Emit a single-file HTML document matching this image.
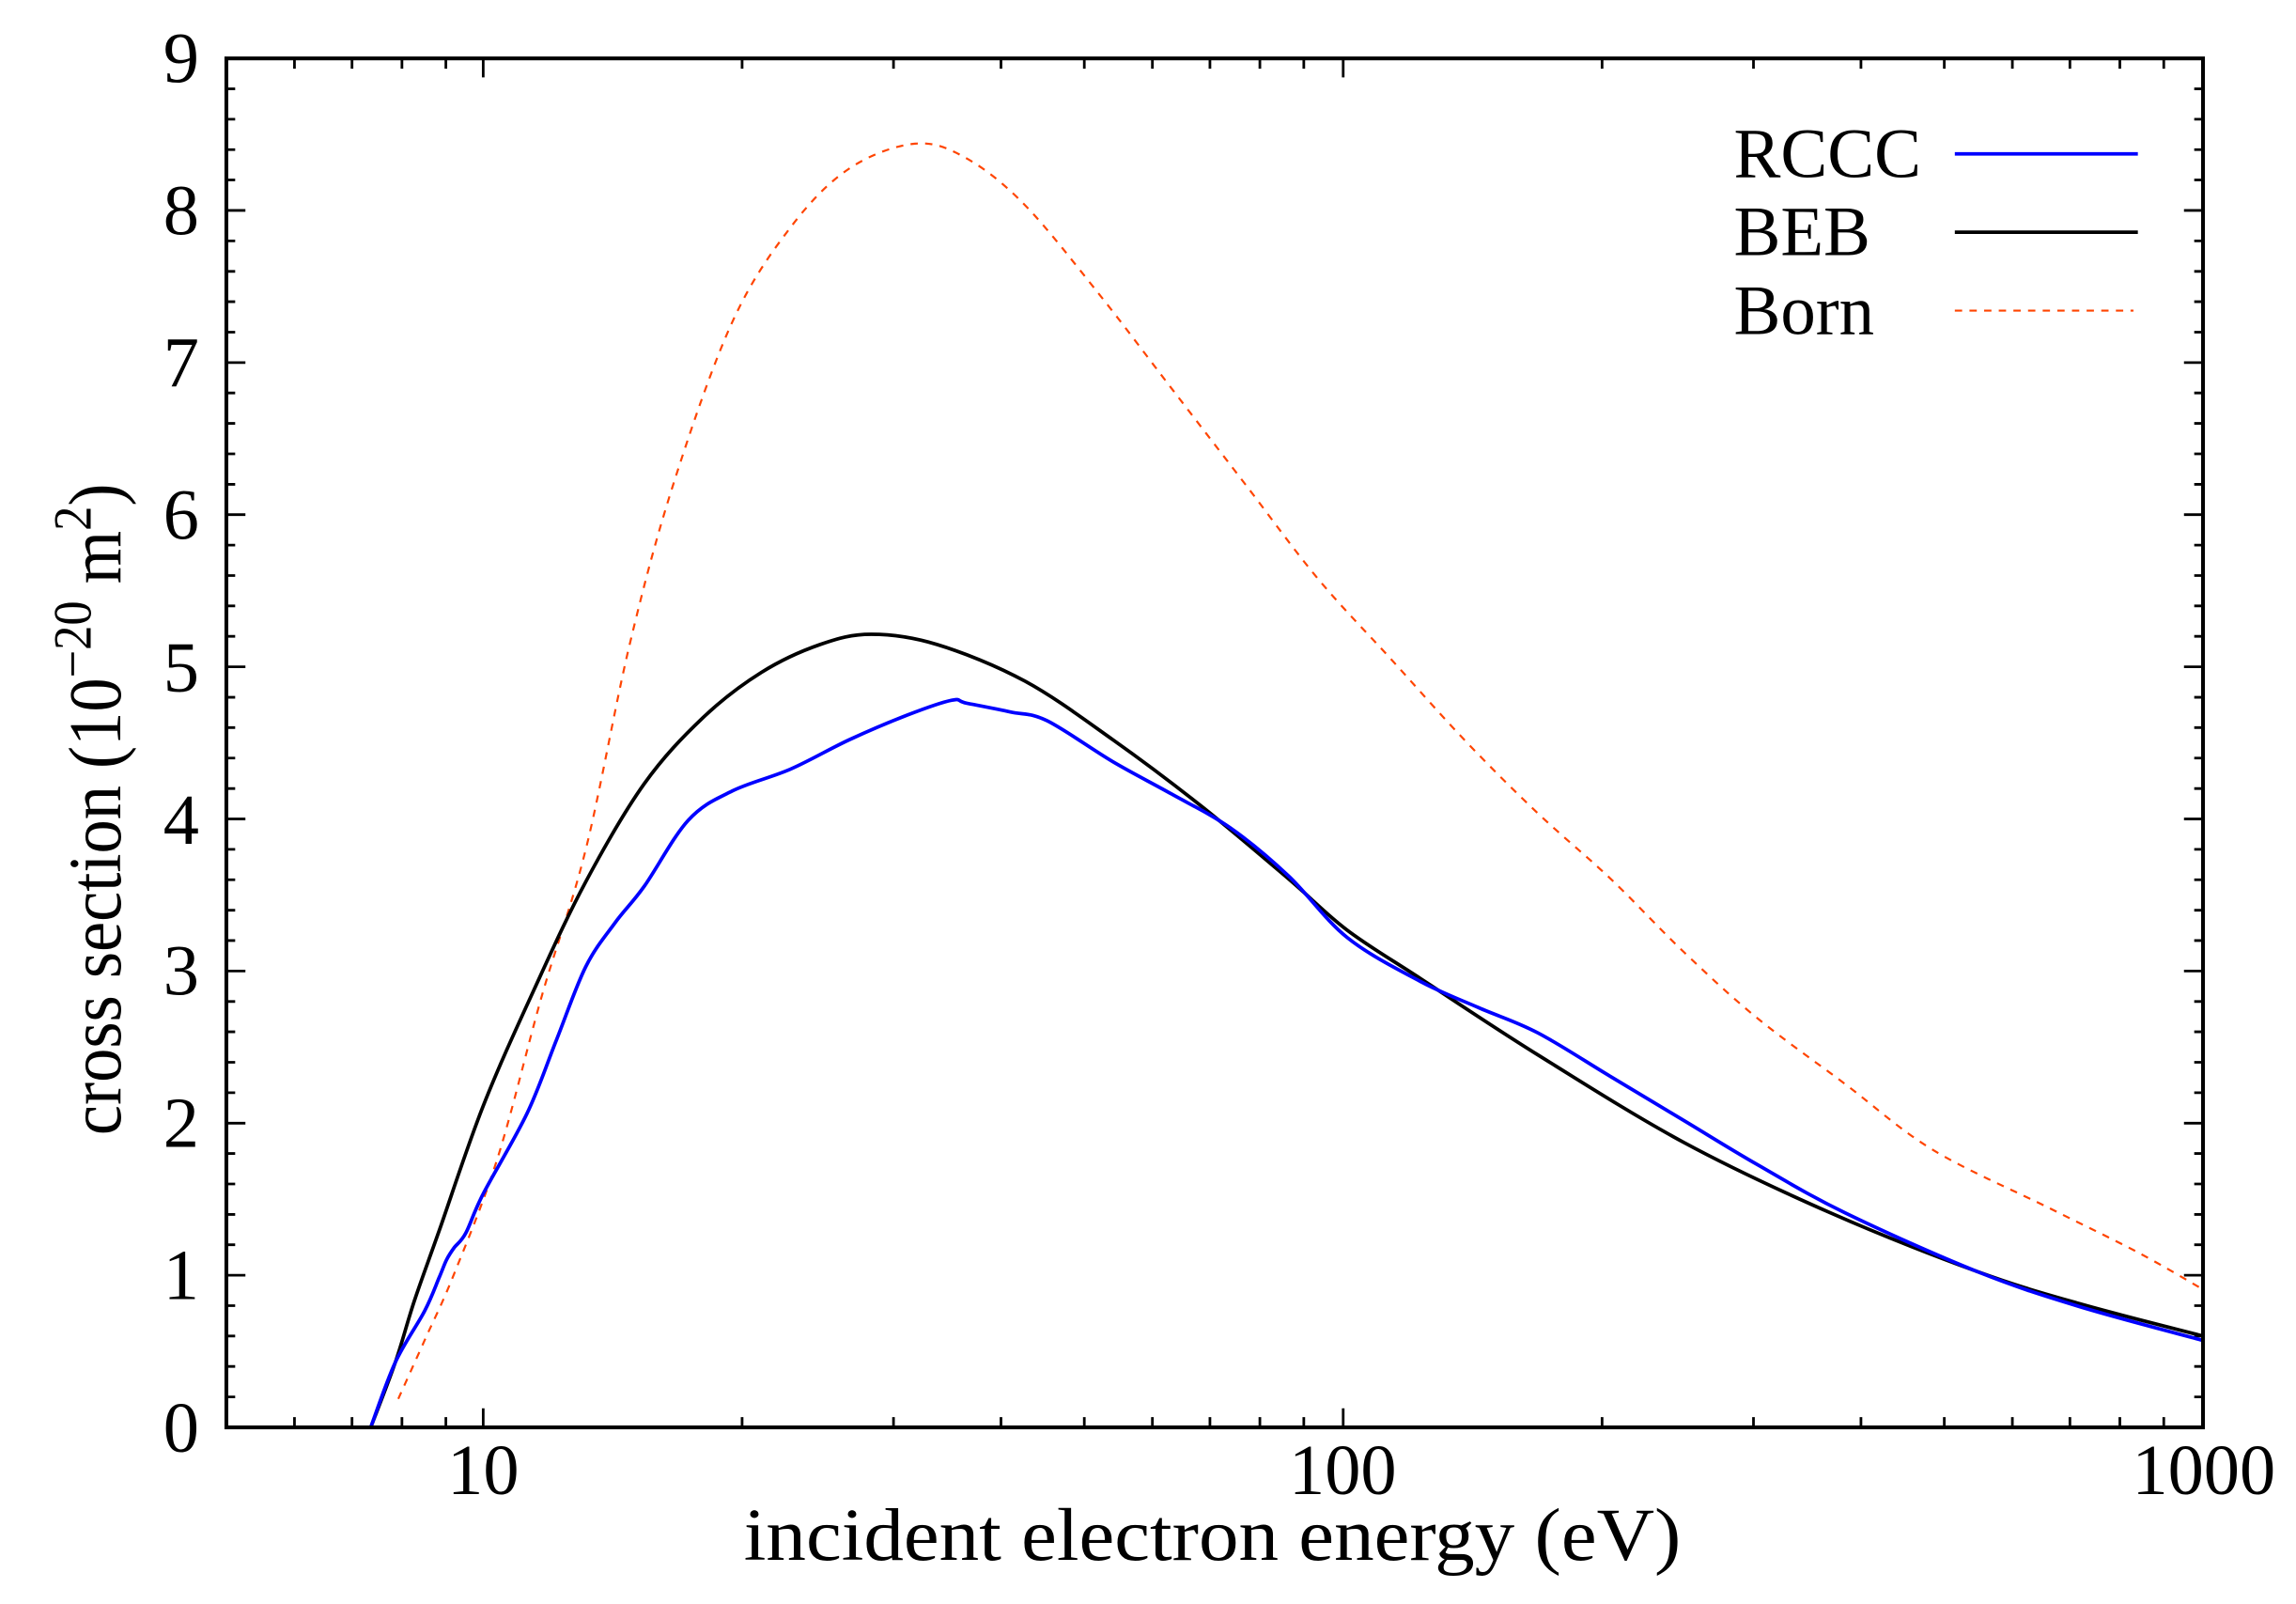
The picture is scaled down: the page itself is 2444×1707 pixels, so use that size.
<!DOCTYPE html>
<html><head><meta charset="utf-8"><style>html,body{margin:0;padding:0;background:#fff}svg{display:block}</style></head>
<body>
<svg id="s" width="2444" height="1707" viewBox="0 0 1568 1095" xmlns="http://www.w3.org/2000/svg" font-family="'Liberation Serif', serif">
<rect width="1568" height="1095" fill="#fff"/>
<g stroke="#000" stroke-width="1.8" fill="none">
<path d="M154.6,953.7h6M154.6,932.9h6M154.6,912.1h6M154.6,891.4h6M154.6,849.8h6M154.6,829.1h6M154.6,808.3h6M154.6,787.5h6M154.6,746h6M154.6,725.2h6M154.6,704.4h6M154.6,683.7h6M154.6,642.1h6M154.6,621.4h6M154.6,600.6h6M154.6,579.8h6M154.6,538.3h6M154.6,517.5h6M154.6,496.7h6M154.6,476h6M154.6,434.4h6M154.6,413.6h6M154.6,392.9h6M154.6,372.1h6M154.6,330.6h6M154.6,309.8h6M154.6,289h6M154.6,268.2h6M154.6,226.7h6M154.6,205.9h6M154.6,185.2h6M154.6,164.4h6M154.6,122.8h6M154.6,102.1h6M154.6,81.3h6M154.6,60.6h6"/>
<path d="M1504.5,953.7h-6M1504.5,932.9h-6M1504.5,912.1h-6M1504.5,891.4h-6M1504.5,849.8h-6M1504.5,829.1h-6M1504.5,808.3h-6M1504.5,787.5h-6M1504.5,746h-6M1504.5,725.2h-6M1504.5,704.4h-6M1504.5,683.7h-6M1504.5,642.1h-6M1504.5,621.4h-6M1504.5,600.6h-6M1504.5,579.8h-6M1504.5,538.3h-6M1504.5,517.5h-6M1504.5,496.7h-6M1504.5,476h-6M1504.5,434.4h-6M1504.5,413.6h-6M1504.5,392.9h-6M1504.5,372.1h-6M1504.5,330.6h-6M1504.5,309.8h-6M1504.5,289h-6M1504.5,268.2h-6M1504.5,226.7h-6M1504.5,205.9h-6M1504.5,185.2h-6M1504.5,164.4h-6M1504.5,122.8h-6M1504.5,102.1h-6M1504.5,81.3h-6M1504.5,60.6h-6"/>
<path d="M154.6,870.6h13M154.6,766.8h13M154.6,662.9h13M154.6,559.1h13M154.6,455.2h13M154.6,351.3h13M154.6,247.5h13M154.6,143.6h13"/>
<path d="M1504.5,870.6h-13M1504.5,766.8h-13M1504.5,662.9h-13M1504.5,559.1h-13M1504.5,455.2h-13M1504.5,351.3h-13M1504.5,247.5h-13M1504.5,143.6h-13"/>
<path d="M201.1,974.5v-7M240.4,974.5v-7M274.5,974.5v-7M304.5,974.5v-7M506.8,974.5v-7M610.2,974.5v-7M683.6,974.5v-7M740.5,974.5v-7M787,974.5v-7M826.3,974.5v-7M860.4,974.5v-7M890.4,974.5v-7M1094.1,974.5v-7M1197.5,974.5v-7M1270.9,974.5v-7M1327.8,974.5v-7M1374.3,974.5v-7M1413.6,974.5v-7M1447.7,974.5v-7M1477.7,974.5v-7"/>
<path d="M201.1,39.8v7M240.4,39.8v7M274.5,39.8v7M304.5,39.8v7M506.8,39.8v7M610.2,39.8v7M683.6,39.8v7M740.5,39.8v7M787,39.8v7M826.3,39.8v7M860.4,39.8v7M890.4,39.8v7M1094.1,39.8v7M1197.5,39.8v7M1270.9,39.8v7M1327.8,39.8v7M1374.3,39.8v7M1413.6,39.8v7M1447.7,39.8v7M1477.7,39.8v7"/>
<path d="M330,974.5v-13M917.3,974.5v-13M330,39.8v13M917.3,39.8v13"/>
</g>
<polyline class="sm" fill="none" stroke="#ff4400" stroke-width="1.4" stroke-dasharray="5,5" points="272,955 290,915 310,870 340,790 370,680 400,580 430,440 460,330 500,220 540,155 580,115 625,98 660,108 700,140 750,200 800,265 850,330 900,395 950,450 1000,505 1050,555 1100,600 1150,650 1200,695 1260,740 1320,785 1400,825 1460,855 1504,880"/>
<polyline class="sm" fill="none" stroke="#000" stroke-width="2.4" stroke-linejoin="round" points="253,975 270,930 283,888 300,840 330,755 365,675 400,602 440,535 480,490 520,459 560,440 595,433 640,440 700,465 760,505 820,550 880,600 920,635 970,668 1050,720 1150,780 1250,828 1350,868 1420,890 1504,912"/>
<polyline class="sm" fill="none" stroke="#0000ff" stroke-width="2.4" stroke-linejoin="round" points="253,975 270,930 290,895 300,872 305,860 310,852 318,842 330,815 360,760 380,710 400,660 420,630 440,605 470,560 500,540 540,525 580,505 620,488 650,478 660,480 690,486 715,492 760,520 800,542 840,565 880,598 920,640 970,670 1010,688 1050,705 1100,735 1150,765 1200,795 1260,828 1350,868 1420,892 1504,915"/>
<rect x="154.6" y="39.8" width="1349.9" height="934.7" fill="none" stroke="#000" stroke-width="2.6"/>
<g font-size="49" text-anchor="end" fill="#000">
<text x="136" y="991">0</text><text x="136" y="887">1</text><text x="136" y="783">2</text><text x="136" y="679">3</text><text x="136" y="576">4</text><text x="136" y="472">5</text><text x="136" y="368">6</text><text x="136" y="264">7</text><text x="136" y="160">8</text><text x="136" y="56">9</text>
</g>
<g font-size="49" text-anchor="middle" fill="#000">
<text x="330" y="1020">10</text><text x="917" y="1020">100</text><text x="1505" y="1020">1000</text>
</g>
<text x="508" y="1065" font-size="51" textLength="640" lengthAdjust="spacingAndGlyphs">incident electron energy (eV)</text>
<text transform="translate(82,775) rotate(-90)" font-size="51" textLength="445" lengthAdjust="spacingAndGlyphs">cross section (10<tspan font-size="37" dy="-20">−20</tspan><tspan dy="20"> m</tspan><tspan font-size="37" dy="-20">2</tspan><tspan dy="20">)</tspan></text>
<g font-size="48" fill="#000">
<text x="1184" y="121">RCCC</text><text x="1184" y="174">BEB</text><text x="1184" y="228">Born</text>
</g>
<line x1="1335" y1="105" x2="1460" y2="105" stroke="#0000ff" stroke-width="2.4"/>
<line x1="1335" y1="158.5" x2="1460" y2="158.5" stroke="#000" stroke-width="2.4"/>
<line x1="1335" y1="212" x2="1457" y2="212" stroke="#ff4400" stroke-width="1.4" stroke-dasharray="5,5"/>
</svg>
<script>
(function(){
var ns="http://www.w3.org/2000/svg";
var pls=document.querySelectorAll("polyline.sm");
for(var k=0;k<pls.length;k++){
var pl=pls[k];
var pts=pl.getAttribute("points").trim().split(/\s+/).map(function(s){var a=s.split(",");return[+a[0],+a[1]];});
var d="M"+pts[0][0]+","+pts[0][1];
for(var i=0;i<pts.length-1;i++){
var p0=pts[i>0?i-1:i],p1=pts[i],p2=pts[i+1],p3=pts[i+2<pts.length?i+2:i+1];
var c1x=p1[0]+(p2[0]-p0[0])/6,c1y=p1[1]+(p2[1]-p0[1])/6;
var c2x=p2[0]-(p3[0]-p1[0])/6,c2y=p2[1]-(p3[1]-p1[1])/6;
d+=" C"+c1x.toFixed(2)+","+c1y.toFixed(2)+" "+c2x.toFixed(2)+","+c2y.toFixed(2)+" "+p2[0]+","+p2[1];
}
var p=document.createElementNS(ns,"path");
p.setAttribute("d",d);
["fill","stroke","stroke-width","stroke-dasharray","stroke-linejoin"].forEach(function(a){if(pl.getAttribute(a))p.setAttribute(a,pl.getAttribute(a));});
pl.parentNode.replaceChild(p,pl);
}
})();
</script>
</body></html>
